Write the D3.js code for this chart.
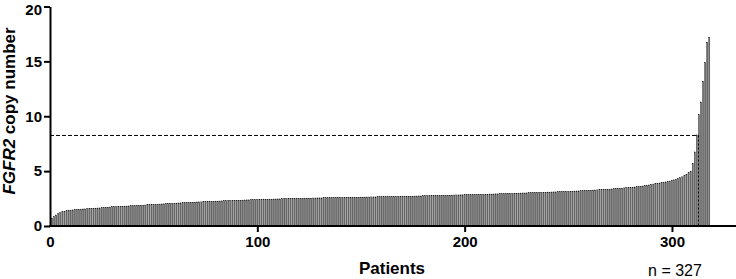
<!DOCTYPE html>
<html>
<head>
<meta charset="utf-8">
<script src="https://cdn.jsdelivr.net/npm/d3@7"></script>
<style>
    body { margin: 0; background: #fff; }
    svg { display: block; font-family: "Liberation Sans", Arial, sans-serif; }
    .tick text { font-size: 15px; font-weight: bold; fill: #000; }
</style>
</head>
<body>
<div id="chart"></div>
<script>

// Data ////////////////////////////////////////

// FGFR2 copy number per patient, sorted ascending
const copyNumbers = [
    0.72, 0.85, 1.0, 1.12, 1.22, 1.3, 1.35, 1.39, 1.42, 1.45,
    1.47, 1.49, 1.51, 1.52, 1.54, 1.55, 1.56, 1.57, 1.59, 1.6,
    1.61, 1.63, 1.64, 1.65, 1.67, 1.68, 1.7, 1.71, 1.73, 1.75,
    1.76, 1.77, 1.78, 1.79, 1.8, 1.81, 1.82, 1.83, 1.84, 1.85,
    1.86, 1.87, 1.88, 1.89, 1.9, 1.91, 1.93, 1.94, 1.95, 1.97,
    1.98, 1.99, 2.0, 2.01, 2.02, 2.04, 2.05, 2.06, 2.07, 2.08,
    2.09, 2.1, 2.11, 2.12, 2.13, 2.14, 2.15, 2.16, 2.17, 2.18,
    2.19, 2.2, 2.2, 2.21, 2.22, 2.23, 2.24, 2.25, 2.26, 2.27,
    2.27, 2.28, 2.29, 2.3, 2.3, 2.31, 2.32, 2.33, 2.33, 2.34,
    2.35, 2.35, 2.36, 2.37, 2.38, 2.38, 2.39, 2.4, 2.41, 2.42,
    2.42, 2.43, 2.43, 2.44, 2.44, 2.45, 2.45, 2.46, 2.46, 2.47,
    2.47, 2.48, 2.48, 2.49, 2.49, 2.5, 2.5, 2.51, 2.51, 2.52,
    2.52, 2.53, 2.53, 2.54, 2.54, 2.54, 2.55, 2.55, 2.56, 2.56,
    2.56, 2.57, 2.57, 2.57, 2.58, 2.58, 2.58, 2.59, 2.59, 2.6,
    2.6, 2.6, 2.61, 2.61, 2.61, 2.62, 2.62, 2.62, 2.63, 2.63,
    2.63, 2.64, 2.64, 2.64, 2.65, 2.65, 2.65, 2.66, 2.66, 2.66,
    2.67, 2.67, 2.67, 2.68, 2.68, 2.68, 2.69, 2.69, 2.7, 2.7,
    2.7, 2.71, 2.71, 2.72, 2.72, 2.73, 2.73, 2.74, 2.74, 2.75,
    2.75, 2.76, 2.76, 2.77, 2.77, 2.78, 2.78, 2.79, 2.79, 2.8,
    2.8, 2.81, 2.81, 2.82, 2.82, 2.83, 2.83, 2.84, 2.84, 2.85,
    2.85, 2.86, 2.86, 2.87, 2.87, 2.88, 2.88, 2.89, 2.89, 2.9,
    2.9, 2.91, 2.91, 2.92, 2.93, 2.93, 2.94, 2.94, 2.95, 2.96,
    2.96, 2.97, 2.97, 2.98, 2.99, 2.99, 3.0, 3.01, 3.01, 3.02,
    3.03, 3.03, 3.04, 3.05, 3.05, 3.06, 3.07, 3.07, 3.08, 3.09,
    3.09, 3.1, 3.11, 3.11, 3.12, 3.13, 3.14, 3.14, 3.15, 3.16,
    3.17, 3.18, 3.18, 3.19, 3.2, 3.21, 3.22, 3.23, 3.24, 3.25,
    3.26, 3.27, 3.28, 3.29, 3.3, 3.31, 3.33, 3.34, 3.35, 3.36,
    3.38, 3.39, 3.4, 3.42, 3.43, 3.45, 3.47, 3.48, 3.5, 3.52,
    3.54, 3.56, 3.58, 3.6, 3.62, 3.65, 3.68, 3.71, 3.74, 3.78,
    3.82, 3.85, 3.88, 3.92, 3.95, 3.98, 4.02, 4.06, 4.1, 4.15,
    4.2, 4.26, 4.32, 4.4, 4.48, 4.58, 4.7, 4.85, 5.0, 5.7,
    6.75, 8.3, 10.15, 11.3, 13.2, 14.9, 16.75, 17.2
];

const xTicks = [0, 100, 200, 300];
const yTicks = [0, 5, 10, 15, 20];

// cut-off: copy number threshold and the patient where it is crossed
const cutoffValue = 8.25;
const cutoffPatient = 312.8;

const sampleLabel = "n = 327";

// Chart ///////////////////////////////////////

const width = 736, height = 279;

const svg = d3.select("#chart").append("svg")
    .attr("width", width)
    .attr("height", height);

const x = d3.scaleLinear()
    .domain([0, 330.4])
    .range([50, 735]);

const y = d3.scaleLinear()
    .domain([0, 20])
    .range([226, 6.5]);

const barW = 1.1;

svg.append("g")
    .attr("class", "bars")
    .selectAll("rect")
    .data(copyNumbers)
    .join("rect")
    .attr("x", (d, i) => x(i + 1) - barW / 2)
    .attr("y", d => y(d))
    .attr("width", barW)
    .attr("height", d => y(0) - y(d))
    .attr("fill", "#858585")
    .attr("stroke", "#000")
    .attr("stroke-width", 0.35);

// Cut-off lines ///////////////////////////////

svg.append("line")
    .attr("x1", x(0))
    .attr("x2", x(cutoffPatient))
    .attr("y1", y(cutoffValue))
    .attr("y2", y(cutoffValue))
    .attr("stroke", "#000")
    .attr("stroke-width", 1)
    .attr("stroke-dasharray", "4,2");

svg.append("line")
    .attr("x1", x(cutoffPatient))
    .attr("x2", x(cutoffPatient))
    .attr("y1", y(cutoffValue))
    .attr("y2", y(0))
    .attr("stroke", "#000")
    .attr("stroke-width", 1)
    .attr("stroke-dasharray", "2,2");

// Axes ////////////////////////////////////////

const xAxis = svg.append("g")
    .attr("transform", `translate(0,${y(0)})`)
    .call(d3.axisBottom(x).tickValues(xTicks).tickSize(6).tickSizeOuter(0).tickPadding(4));

const yAxis = svg.append("g")
    .attr("transform", `translate(${x(0)},0)`)
    .call(d3.axisLeft(y).tickValues(yTicks).tickSize(6).tickSizeOuter(0).tickPadding(2));

xAxis.select(".domain").attr("stroke-width", 2).attr("d", `M${x(0) - 1},0H${width}`);
yAxis.select(".domain").attr("stroke-width", 2);
svg.selectAll(".tick line").attr("stroke-width", 2);
xAxis.selectAll(".tick").filter(d => d === 0).select("line").remove();

// keep the top label inside the picture
yAxis.selectAll(".tick").filter(d => d === 20).select("text").attr("dy", "0.5em");

// Labels //////////////////////////////////////

svg.append("text")
    .attr("x", 392)
    .attr("y", 274)
    .attr("text-anchor", "middle")
    .style("font-size", "17px")
    .style("font-weight", "bold")
    .text("Patients");

const yTitle = svg.append("text")
    .attr("transform", "translate(15,111) rotate(-90)")
    .attr("text-anchor", "middle")
    .style("font-size", "17px")
    .style("font-weight", "bold");
yTitle.append("tspan").style("font-style", "italic").text("FGFR2");
yTitle.append("tspan").text(" copy number");

svg.append("text")
    .attr("x", 675)
    .attr("y", 275.5)
    .attr("text-anchor", "middle")
    .style("font-size", "16px")
    .text(sampleLabel);

</script>
</body>
</html>
